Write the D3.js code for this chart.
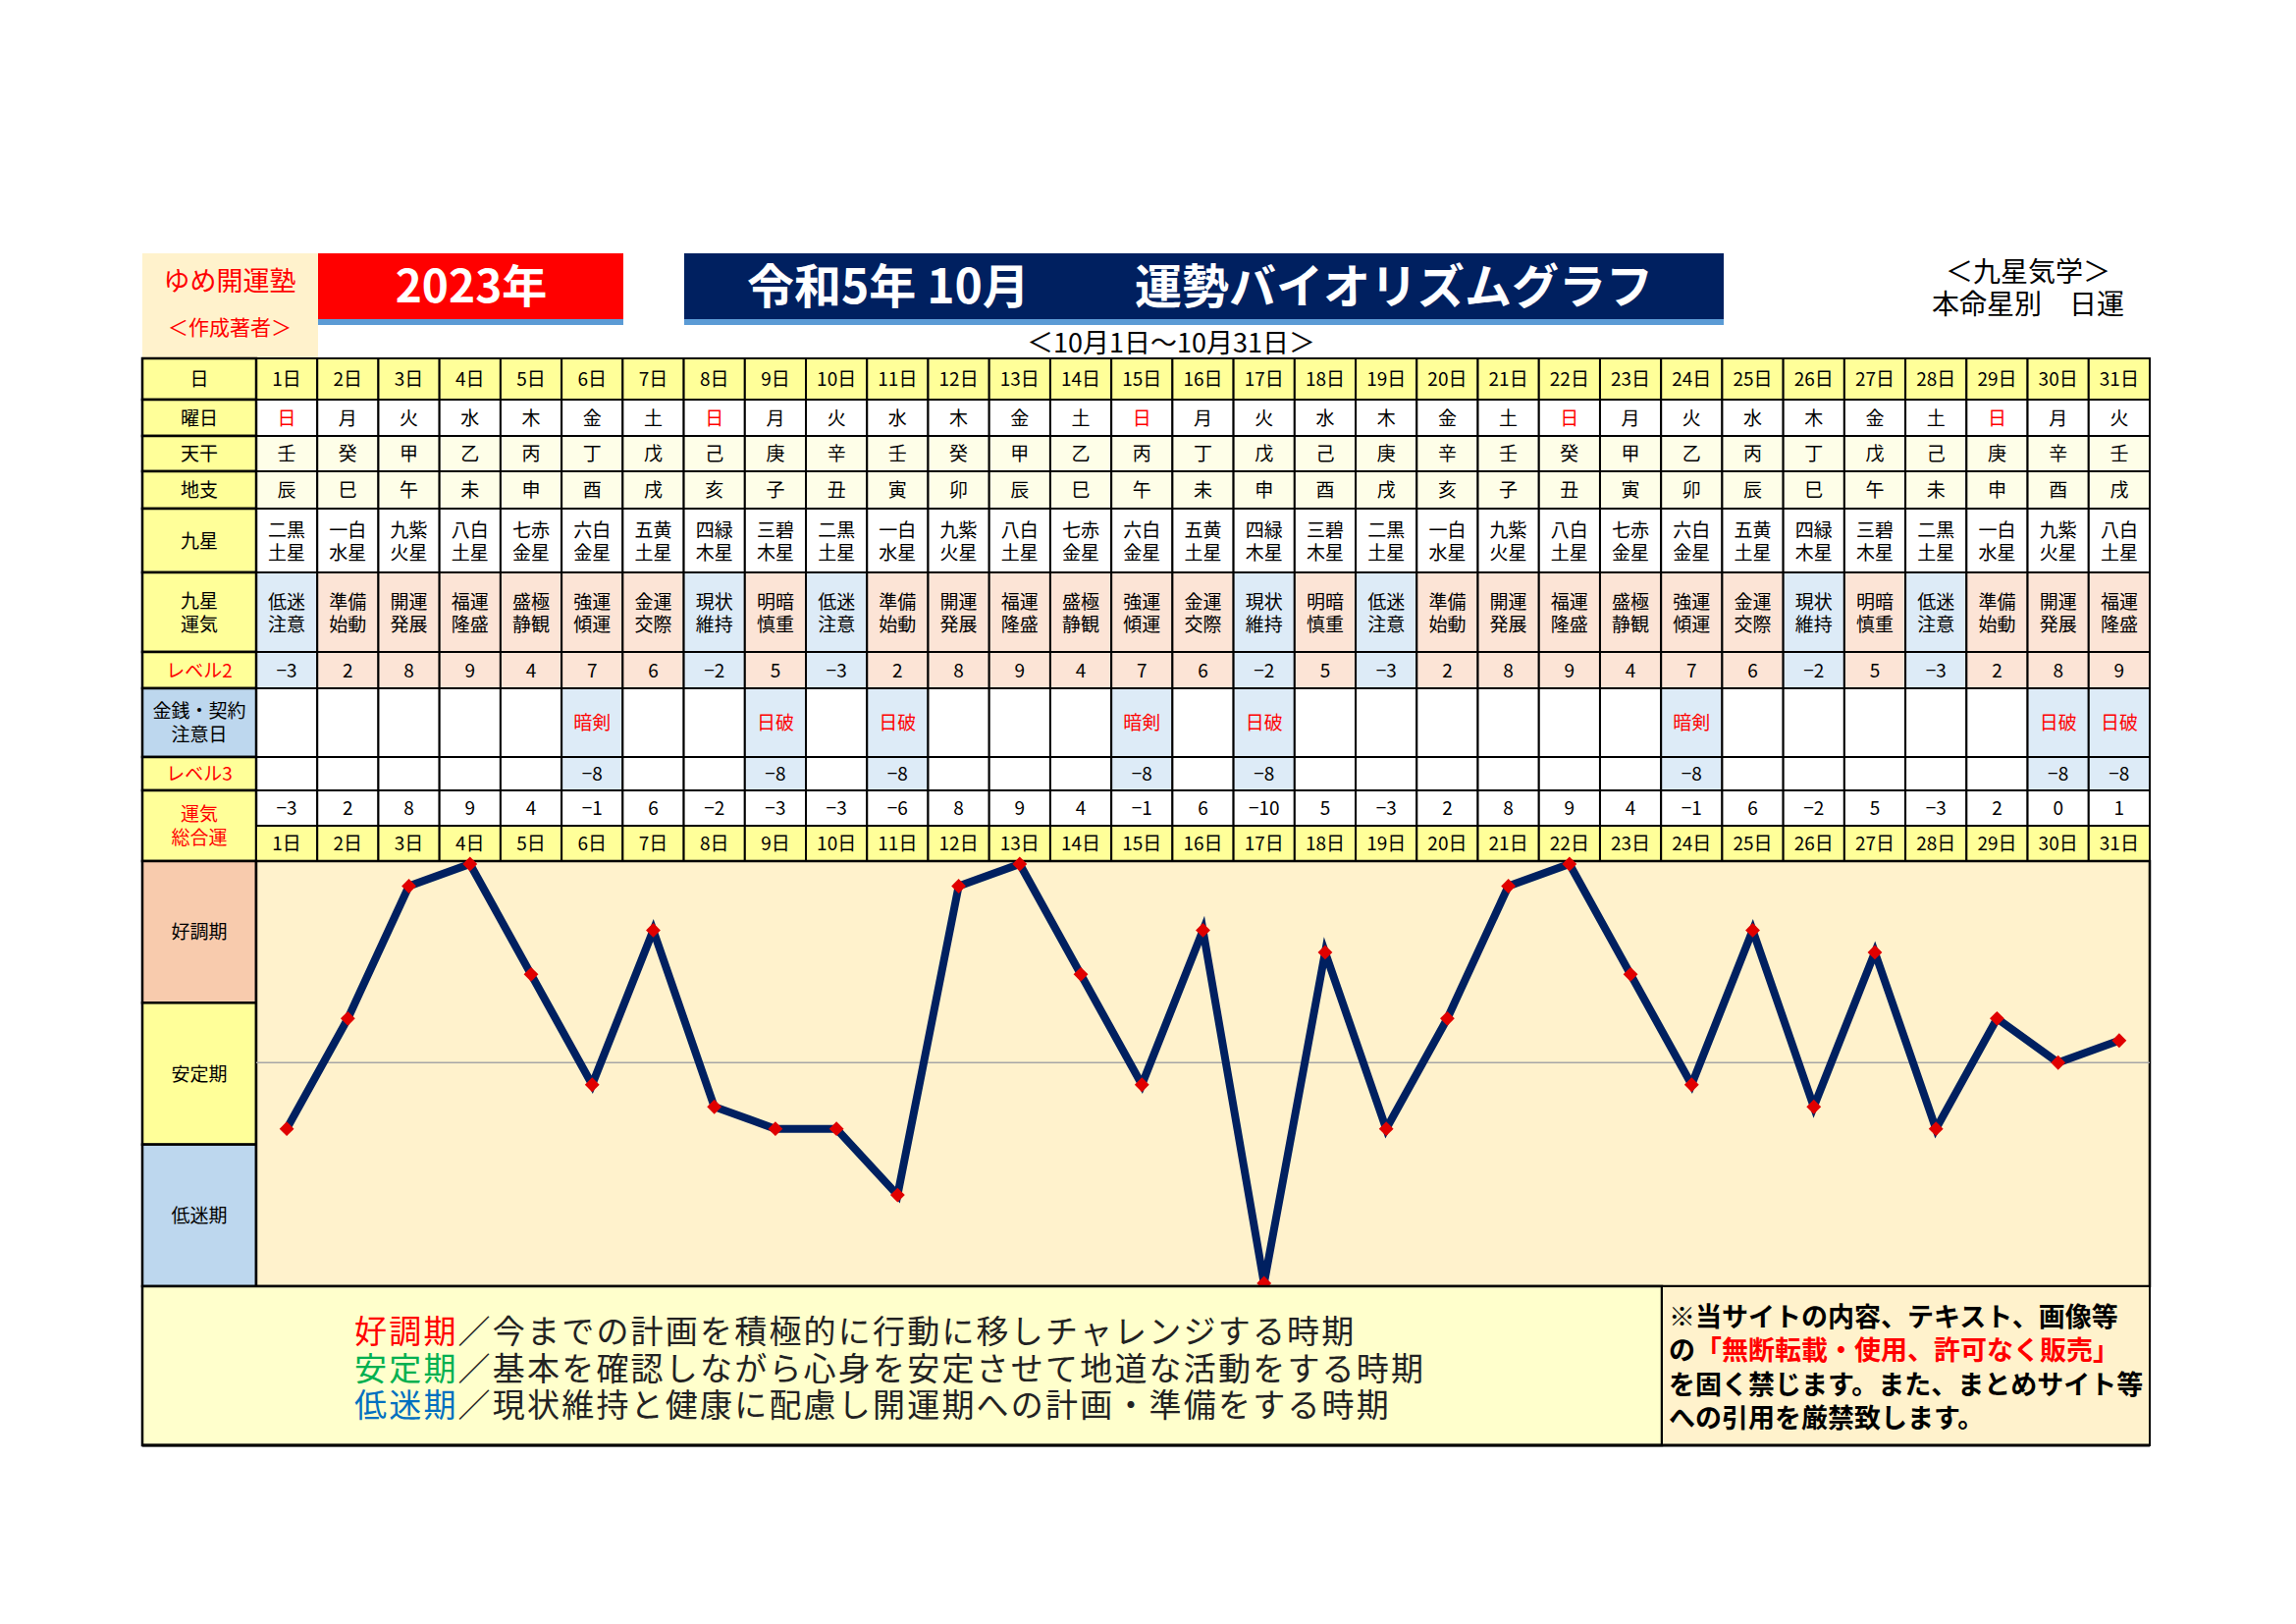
<!DOCTYPE html>
<html>
<head>
<meta charset="utf-8">
<script src="https://cdn.jsdelivr.net/npm/d3@7"></script>
<style>
  body { margin: 0; background: #fff; }
  text { font-family: "Noto Sans CJK JP", "Noto Sans", sans-serif; }
</style>
</head>
<body>
<div id="chart"></div>
<script>
// ---- data ----
const days = ["1日","2日","3日","4日","5日","6日","7日","8日","9日","10日","11日","12日","13日","14日","15日","16日",
  "17日","18日","19日","20日","21日","22日","23日","24日","25日","26日","27日","28日","29日","30日","31日"];
const weekdays = ["日","月","火","水","木","金","土","日","月","火","水","木","金","土","日","月",
  "火","水","木","金","土","日","月","火","水","木","金","土","日","月","火"];
const tenkan = ["壬","癸","甲","乙","丙","丁","戊","己","庚","辛","壬","癸","甲","乙","丙","丁",
  "戊","己","庚","辛","壬","癸","甲","乙","丙","丁","戊","己","庚","辛","壬"];
const chishi = ["辰","巳","午","未","申","酉","戌","亥","子","丑","寅","卯","辰","巳","午","未",
  "申","酉","戌","亥","子","丑","寅","卯","辰","巳","午","未","申","酉","戌"];
const kyusei = ["二黒土星","一白水星","九紫火星","八白土星","七赤金星","六白金星","五黄土星","四緑木星","三碧木星",
  "二黒土星","一白水星","九紫火星","八白土星","七赤金星","六白金星","五黄土星","四緑木星","三碧木星",
  "二黒土星","一白水星","九紫火星","八白土星","七赤金星","六白金星","五黄土星","四緑木星","三碧木星",
  "二黒土星","一白水星","九紫火星","八白土星"];
const unki = ["低迷注意","準備始動","開運発展","福運隆盛","盛極静観","強運傾運","金運交際","現状維持","明暗慎重",
  "低迷注意","準備始動","開運発展","福運隆盛","盛極静観","強運傾運","金運交際","現状維持","明暗慎重",
  "低迷注意","準備始動","開運発展","福運隆盛","盛極静観","強運傾運","金運交際","現状維持","明暗慎重",
  "低迷注意","準備始動","開運発展","福運隆盛"];
const level2 = [-3,2,8,9,4,7,6,-2,5,-3,2,8,9,4,7,6,-2,5,-3,2,8,9,4,7,6,-2,5,-3,2,8,9];
const caution = ["","","","","","暗剣","","","日破","","日破","","","","暗剣","",
  "日破","","","","","","","暗剣","","","","","","日破","日破"];
const level3 = [null,null,null,null,null,-8,null,null,-8,null,-8,null,null,null,-8,null,
  -8,null,null,null,null,null,null,-8,null,null,null,null,null,-8,-8];
const total = [-3,2,8,9,4,-1,6,-2,-3,-3,-6,8,9,4,-1,6,-10,5,-3,2,8,9,4,-1,6,-2,5,-3,2,0,1];
const periods = ["好調期","安定期","低迷期"];
const notes = [
  {head:"好調期", color:"#ff0000", body:"／今までの計画を積極的に行動に移しチャレンジする時期"},
  {head:"安定期", color:"#00b050", body:"／基本を確認しながら心身を安定させて地道な活動をする時期"},
  {head:"低迷期", color:"#0070c0", body:"／現状維持と健康に配慮し開運期への計画・準備をする時期"}
];

// ---- layout ----
const W = 2339, H = 1654;
const left = 145, labelW = 116, right = 2190;
const tight = "'Liberation Sans', 'Noto Sans CJK JP'";
const svg = d3.select("#chart").append("svg").attr("width", W).attr("height", H);

const x = d3.scaleBand().domain(days).range([left + labelW, right]);
const cx = d => x(d) + x.bandwidth() / 2;

const yellow = "#ffff99", pink = "#fce4d6", blue = "#ddebf7", cream = "#fefee8";

// header
svg.append("rect").attr("x", left).attr("y", 258).attr("width", 179).attr("height", 107).attr("fill", "#fff2cc");
svg.append("text").attr("x", left + 89).attr("y", 296).attr("text-anchor", "middle")
  .style("font-size", "27px").attr("fill", "#ff0000").text("ゆめ開運塾");
svg.append("text").attr("x", left + 89).attr("y", 341).attr("text-anchor", "middle")
  .style("font-size", "21px").attr("fill", "#ff0000").text("＜作成著者＞");

svg.append("rect").attr("x", 324).attr("y", 258).attr("width", 311).attr("height", 67).attr("fill", "#ff0000");
svg.append("rect").attr("x", 324).attr("y", 325).attr("width", 311).attr("height", 6).attr("fill", "#5b9bd5");
svg.append("text").attr("x", 480).attr("y", 308).attr("text-anchor", "middle")
  .style("font-size", "46px").style("font-weight", "bold").attr("fill", "#fff").text("2023年");

svg.append("rect").attr("x", 697).attr("y", 258).attr("width", 1059).attr("height", 67).attr("fill", "#002060");
svg.append("rect").attr("x", 697).attr("y", 325).attr("width", 1059).attr("height", 6).attr("fill", "#5b9bd5");
svg.append("text").attr("x", 761).attr("y", 309)
  .style("font-size", "48px").style("font-weight", "bold").attr("fill", "#fff").text("令和5年 10月");
svg.append("text").attr("x", 1156).attr("y", 309)
  .style("font-size", "48px").style("font-weight", "bold").attr("fill", "#fff").text("運勢バイオリズムグラフ");

svg.append("text").attr("x", 2066).attr("y", 287).attr("text-anchor", "middle")
  .style("font-family", tight).style("font-size", "28px").text("＜九星気学＞");
svg.append("text").attr("x", 2066).attr("y", 320).attr("text-anchor", "middle").attr("xml:space", "preserve")
  .style("font-family", tight).style("font-size", "28px").text("本命星別　日運");
svg.append("text").attr("x", 1193).attr("y", 359).attr("text-anchor", "middle")
  .style("font-size", "27px").text("＜10月1日～10月31日＞");

// table rows
const neg = v => v < 0 ? "−" + (-v) : String(v);
const rows = [
  {label:["日"], y0:365, y1:407, vals:days, fill:() => yellow, lfill:yellow},
  {label:["曜日"], y0:407, y1:444, vals:weekdays, fill:() => "#fff", lfill:yellow,
    color:d => d === "日" ? "#ff0000" : "#000"},
  {label:["天干"], y0:444, y1:480, vals:tenkan, fill:() => cream, lfill:yellow},
  {label:["地支"], y0:480, y1:518, vals:chishi, fill:() => cream, lfill:yellow},
  {label:["九星"], y0:518, y1:583, vals:kyusei, fill:() => "#fff", lfill:yellow, two:true},
  {label:["九星","運気"], y0:583, y1:664, vals:unki, fill:(d,i) => level2[i] < 0 ? blue : pink, lfill:yellow, two:true},
  {label:["レベル2"], y0:664, y1:701, vals:level2.map(neg), fill:(d,i) => level2[i] < 0 ? blue : pink,
    lfill:yellow, lcolor:"#ff0000"},
  {label:["金銭・契約","注意日"], y0:701, y1:771, vals:caution, fill:d => d ? blue : "#fff", lfill:"#bdd7ee",
    color:() => "#ff0000", lsize:19},
  {label:["レベル3"], y0:771, y1:805, vals:level3.map(v => v == null ? "" : neg(v)), fill:d => d ? blue : "#fff",
    lfill:yellow, lcolor:"#ff0000"},
  {label:["運気","総合運"], y0:805, y1:841, ly1:877, vals:total.map(neg), fill:() => "#fff",
    lfill:yellow, lcolor:"#ff0000"},
  {label:null, y0:841, y1:877, vals:days, fill:() => yellow}
];

rows.forEach(r => {
  const g = svg.append("g");
  g.selectAll("rect").data(r.vals).enter().append("rect")
    .attr("x", (d,i) => x(days[i])).attr("y", r.y0)
    .attr("width", x.bandwidth()).attr("height", r.y1 - r.y0)
    .attr("fill", r.fill).attr("stroke", "#000").attr("stroke-width", 2);
  const mid = (r.y0 + r.y1) / 2;
  g.selectAll("text").data(r.vals).enter().append("text")
    .attr("x", (d,i) => cx(days[i])).attr("text-anchor", "middle")
    .attr("fill", r.color || "#000").style("font-size", "19px")
    .each(function(d) {
      const t = d3.select(this);
      const s = String(d);
      if (r.two) {
        t.append("tspan").attr("x", t.attr("x")).attr("y", mid - 4).text(s.slice(0, 2));
        t.append("tspan").attr("x", t.attr("x")).attr("y", mid + 19).text(s.slice(2));
      } else {
        t.attr("y", mid + 7).text(s);
      }
    });
  if (r.label) {
    const ly1 = r.ly1 || r.y1;
    svg.append("rect").attr("x", left).attr("y", r.y0).attr("width", labelW).attr("height", ly1 - r.y0)
      .attr("fill", r.lfill).attr("stroke", "#000").attr("stroke-width", 2.5);
    const lm = (r.y0 + ly1) / 2;
    const lt = svg.append("text").attr("text-anchor", "middle").attr("fill", r.lcolor || "#000")
      .style("font-size", (r.lsize || 19) + "px");
    r.label.forEach((s, k) => {
      lt.append("tspan").attr("x", left + labelW / 2)
        .attr("y", lm + 7 + (k - (r.label.length - 1) / 2) * 24).text(s);
    });
  }
});

// chart
const plotTop = 877, plotBottom = 1310;
const y = d3.scaleLinear().domain([-10, 9]).range([plotBottom - 3, plotTop + 3]);
const band = (plotBottom - plotTop) / 3;
const bandFill = ["#f8cbad", "#ffff99", "#bdd7ee"];
periods.forEach((p, i) => {
  svg.append("rect").attr("x", left).attr("y", plotTop + i * band).attr("width", labelW).attr("height", band)
    .attr("fill", bandFill[i]).attr("stroke", "#000").attr("stroke-width", 2.5);
  svg.append("text").attr("x", left + labelW / 2).attr("y", plotTop + i * band + band / 2 + 7)
    .attr("text-anchor", "middle").style("font-size", "19px").text(p);
});
svg.append("rect").attr("x", left + labelW).attr("y", plotTop).attr("width", right - left - labelW)
  .attr("height", plotBottom - plotTop).attr("fill", "#fff2cc").attr("stroke", "#000").attr("stroke-width", 2.5);
svg.append("line").attr("x1", left + labelW).attr("x2", right).attr("y1", y(0)).attr("y2", y(0))
  .attr("stroke", "#a6a6a6").attr("stroke-width", 1.5);

const line = d3.line().x((d,i) => cx(days[i])).y(d => y(d));
svg.append("path").datum(total).attr("d", line).attr("fill", "none")
  .attr("stroke", "#002060").attr("stroke-width", 8).attr("stroke-linejoin", "miter");
svg.selectAll(".pt").data(total).enter().append("path").attr("class", "pt")
  .attr("d", d3.symbol(d3.symbolSquare, 110))
  .attr("transform", (d,i) => `translate(${cx(days[i])},${y(d)}) rotate(45)`)
  .attr("fill", "#e00000");

// bottom notes
const boxTop = 1310, boxBottom = 1472, divX = 1693;
svg.append("rect").attr("x", left).attr("y", boxTop).attr("width", divX - left).attr("height", boxBottom - boxTop)
  .attr("fill", "#ffffcc").attr("stroke", "#000").attr("stroke-width", 2.5);
svg.append("rect").attr("x", divX).attr("y", boxTop).attr("width", right - divX).attr("height", boxBottom - boxTop)
  .attr("fill", "#fff2cc").attr("stroke", "#000").attr("stroke-width", 2);
svg.append("line").attr("x1", left).attr("x2", right).attr("y1", boxBottom).attr("y2", boxBottom)
  .attr("stroke", "#000").attr("stroke-width", 3);
notes.forEach((n, i) => {
  const t = svg.append("text").attr("x", 361).attr("y", 1368 + i * 37.5)
    .style("font-family", tight)
    .style("font-size", "33px").style("letter-spacing", "2.2px");
  t.append("tspan").attr("fill", n.color).text(n.head);
  t.append("tspan").attr("fill", "#222").text(n.body);
});
const warn = [
  [["※当サイトの内容、テキスト、画像等", "#000"]],
  [["の", "#000"], ["「無断転載・使用、許可なく販売」", "#ff0000"]],
  [["を固く禁じます。また、まとめサイト等", "#000"]],
  [["への引用を厳禁致します。", "#000"]]
];
warn.forEach((ln, i) => {
  const t = svg.append("text").attr("x", 1700).attr("y", 1351 + i * 34.3)
    .style("font-family", tight)
    .style("font-size", "27px").style("font-weight", "bold");
  ln.forEach(p => t.append("tspan").attr("fill", p[1]).text(p[0]));
});
</script>
</body>
</html>
